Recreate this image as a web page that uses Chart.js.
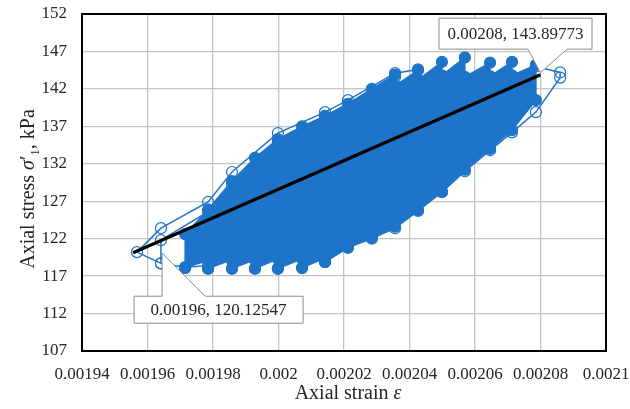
<!DOCTYPE html>
<html><head><meta charset="utf-8">
<script src="https://cdn.jsdelivr.net/npm/chart.js@4.4.1/dist/chart.umd.min.js"></script>
<style>html,body{margin:0;padding:0;background:#fff}#wrap{width:630px;height:409px;position:relative}</style>
</head><body><div id="wrap"><canvas id="c"></canvas></div>
<script>
const xTicks = [0.00194,0.00196,0.00198,0.002,0.00202,0.00204,0.00206,0.00208,0.0021];
const yTicks = [107,112,117,122,127,132,137,142,147,152];
const fitStrain = [0.0019556, 0.00208];
const fitStress = [120.12547, 143.89773];
const calloutText = ['0.00196, 120.12547', '0.00208, 143.89773'];

// outer first-loading path (hollow markers)
const loop0 = [[0.0019641,118.7],[0.0019568,120.2],[0.0019641,123.4],[0.0019785,126.9],[0.0019858,130.9],[0.0019998,136.1],[0.0020142,138.9],[0.0020212,140.5],[0.0020356,144.1],[0.0020426,144.6],[0.0020426,139.6],[0.0020356,136.6],[0.0020285,133.6],[0.0020212,130.6],[0.0020142,127.7],[0.0020072,125.0],[0.0019998,122.6],[0.0019928,120.6],[0.0019858,119.1],[0.0019785,118.4],[0.0019715,118.2],[0.0019641,118.7],[0.0019641,121.8],[0.0019785,125.6],[0.0019858,129.3],[0.0019998,134.9],[0.0020142,138.3],[0.0020356,143.6]];
// last unloading path (hollow markers)
const loop8 = [[0.0020713,143.6],[0.0020786,145.0],[0.002086,144.2],[0.002086,143.5],[0.0020786,138.9],[0.0020713,136.2],[0.0020646,133.8],[0.0020569,131.0],[0.0020499,128.2],[0.0020426,125.7],[0.0020356,123.4],[0.0020285,122.0],[0.0020212,120.8],[0.0020142,118.9]];
const loop1 = [[0.0019715,118.1],[0.0019715,122.6],[0.0019785,125.9],[0.0019858,129.7],[0.0019928,132.8],[0.0019998,135.3],[0.0020072,137.0],[0.0020142,138.4],[0.0020212,140.0],[0.0020285,142.0],[0.0020356,143.9],[0.0020356,139.5],[0.0020285,136.5],[0.0020212,133.5],[0.0020142,130.5],[0.0020072,127.6],[0.0019998,124.9],[0.0019928,122.6],[0.0019858,120.6],[0.0019785,119.1],[0.0019715,118.1]];
const loop2 = [[0.0019785,118.0],[0.0019785,122.3],[0.0019858,126.0],[0.0019928,129.6],[0.0019998,132.6],[0.0020072,135.1],[0.0020142,137.1],[0.0020212,138.9],[0.0020285,140.6],[0.0020356,142.4],[0.0020426,144.5],[0.0020426,139.8],[0.0020356,136.8],[0.0020285,133.8],[0.0020212,130.8],[0.0020142,127.9],[0.0020072,125.1],[0.0019998,122.7],[0.0019928,120.7],[0.0019858,119.2],[0.0019785,118.0]];
const loop3 = [[0.0019858,118.0],[0.0019858,122.4],[0.0019928,126.4],[0.0019998,130.1],[0.0020072,133.1],[0.0020142,135.6],[0.0020212,137.6],[0.0020285,139.4],[0.0020356,141.2],[0.0020426,143.2],[0.0020499,145.6],[0.0020499,140.2],[0.0020426,137.0],[0.0020356,134.0],[0.0020285,131.0],[0.0020212,128.1],[0.0020142,125.3],[0.0020072,122.9],[0.0019998,120.8],[0.0019928,119.2],[0.0019858,118.0]];
const loop4 = [[0.0019928,118.0],[0.0019928,122.5],[0.0019998,126.6],[0.0020072,130.3],[0.0020142,133.3],[0.0020212,135.8],[0.0020285,137.9],[0.0020356,139.8],[0.0020426,141.7],[0.0020499,143.8],[0.0020569,146.2],[0.0020569,140.4],[0.0020499,137.2],[0.0020426,134.2],[0.0020356,131.2],[0.0020285,128.3],[0.0020212,125.5],[0.0020142,123.0],[0.0020072,120.9],[0.0019998,119.3],[0.0019928,118.0]];
const loop5 = [[0.0019998,118.0],[0.0019998,122.4],[0.0020072,126.4],[0.0020142,130.1],[0.0020212,133.1],[0.0020285,135.7],[0.0020356,137.9],[0.0020426,139.8],[0.0020499,141.7],[0.0020569,143.6],[0.0020646,145.5],[0.0020646,140.0],[0.0020569,137.0],[0.0020499,134.0],[0.0020426,131.0],[0.0020356,128.1],[0.0020285,125.4],[0.0020212,123.0],[0.0020142,120.9],[0.0020072,119.3],[0.0019998,118.0]];
const loop6 = [[0.0020072,118.1],[0.0020072,122.3],[0.0020142,126.2],[0.0020212,129.9],[0.0020285,133.0],[0.0020356,135.6],[0.0020426,137.9],[0.0020499,139.9],[0.0020569,141.8],[0.0020646,143.7],[0.0020713,145.6],[0.0020713,139.7],[0.0020646,136.8],[0.0020569,133.9],[0.0020499,130.9],[0.0020426,128.0],[0.0020356,125.3],[0.0020285,123.0],[0.0020212,121.0],[0.0020142,119.4],[0.0020072,118.1]];
const loop7 = [[0.0020142,118.9],[0.0020142,122.6],[0.0020212,126.3],[0.0020285,129.9],[0.0020356,133.0],[0.0020426,135.7],[0.0020499,138.0],[0.0020569,140.1],[0.0020646,142.0],[0.0020713,143.8],[0.0020786,145.2],[0.0020786,140.5],[0.0020713,136.5],[0.0020646,134.0],[0.0020569,131.2],[0.0020499,128.3],[0.0020426,125.8],[0.0020356,123.6],[0.0020285,122.1],[0.0020212,120.8],[0.0020142,118.9]];

const BLUE = 'rgb(30,116,200)';
const FONT = "'Liberation Serif', 'DejaVu Serif', serif";
function pts(a){ return a.map(p => ({x:p[0], y:p[1]})); }
const hollow = l => ({data:pts(l), showLine:true, borderColor:BLUE, borderWidth:1.5, pointRadius:5.5, pointBorderWidth:1.2, pointBorderColor:BLUE, pointBackgroundColor:'rgba(0,0,0,0)', fill:false});
const filled = l => ({data:pts(l), showLine:true, borderColor:BLUE, backgroundColor:BLUE, borderWidth:1.5, pointRadius:5.5, pointBorderWidth:1.2, pointBorderColor:BLUE, pointBackgroundColor:BLUE, fill:'shape'});

const datasets = [
  {data: fitStrain.map((x,i)=>({x, y:fitStress[i]})), showLine:true, borderColor:'#000', borderWidth:3.2, pointRadius:0, fill:false},
  hollow(loop0), hollow(loop8),
  ...[loop1,loop2,loop3,loop4,loop5,loop6,loop7].map(filled)
];

const decor = {
  id:'decor',
  afterDatasetsDraw(chart){
    const {ctx, chartArea:a} = chart;
    ctx.save(); ctx.strokeStyle='#000'; ctx.lineWidth=2;
    ctx.strokeRect(a.left, a.top, a.right-a.left, a.bottom-a.top);
    ctx.restore();
  },
  afterDraw(chart){
    const ctx = chart.ctx;
    const m = chart.getDatasetMeta(0);
    const p1 = m.data[0], p2 = m.data[1];
    ctx.save();
    ctx.lineWidth = 1; ctx.strokeStyle = '#8c8c8c'; ctx.fillStyle = '#fff';
    // lower-left callout
    let L = p1.x+1, R = p1.x+170, T = p1.y+43.5, B = p1.y+70.5;
    ctx.beginPath();
    ctx.moveTo(L,T); ctx.lineTo(p1.x+29,T); ctx.lineTo(p1.x+29,p1.y+0.5); ctx.lineTo(p1.x+72,T);
    ctx.lineTo(R,T); ctx.lineTo(R,B); ctx.lineTo(L,B); ctx.closePath();
    ctx.fill(); ctx.stroke();
    ctx.fillStyle = '#262626'; ctx.font = '17px ' + FONT; ctx.textAlign='center'; ctx.textBaseline='middle';
    ctx.fillText(calloutText[0], (L+R)/2, (T+B)/2+1);
    // upper-right callout
    ctx.fillStyle = '#fff';
    L = p2.x-101.5; R = p2.x+51.5; T = p2.y-56.5; B = p2.y-25.5;
    ctx.beginPath();
    ctx.moveTo(L,T); ctx.lineTo(R,T); ctx.lineTo(R,B); ctx.lineTo(p2.x+26.5,B); ctx.lineTo(p2.x,p2.y-2);
    ctx.lineTo(p2.x-12.5,B); ctx.lineTo(L,B); ctx.closePath();
    ctx.fill(); ctx.stroke();
    ctx.fillStyle = '#262626';
    ctx.fillText(calloutText[1], (L+R)/2, (T+B)/2+1);

    // x axis title
    const parts = (arr) => arr.reduce((w,p)=>{ctx.font=p[1]; return w+ctx.measureText(p[0]).width;},0);
    ctx.fillStyle = '#262626'; ctx.textAlign='left'; ctx.textBaseline='alphabetic';
    const xp = [['Axial strain ', '20px '+FONT, 0], ['\u03B5', 'italic 20px '+FONT, 0]];
    let w = parts(xp), x0 = 348 - w/2;
    for (const p of xp){ ctx.font=p[1]; ctx.fillText(p[0], x0, 399); x0 += ctx.measureText(p[0]).width; }
    // y axis title
    ctx.translate(34, 189); ctx.rotate(-Math.PI/2);
    const yp = [['Axial stress ', '20px '+FONT, 0], ['\u03C3', 'italic 20px '+FONT, 0], ['\u2032', '20px '+FONT, 0], ['1', '13px '+FONT, 5], [', kPa', '20px '+FONT, 0]];
    w = parts(yp); x0 = -w/2;
    for (const p of yp){ ctx.font=p[1]; ctx.fillText(p[0], x0, p[2]); x0 += ctx.measureText(p[0]).width; }
    ctx.restore();
  }
};

new Chart(document.getElementById('c'), {
  type:'scatter',
  data:{datasets},
  options:{
    responsive:true, maintainAspectRatio:false, animation:false,
    layout:{padding:{top:14, right:24, left:0, bottom:0}},
    plugins:{legend:{display:false}, tooltip:{enabled:false}},
    scales:{
      x:{type:'linear', min:xTicks[0], max:xTicks[xTicks.length-1],
        afterBuildTicks(s){ s.ticks = xTicks.map(v=>({value:v})); },
        afterFit(s){ s.height = 58; s.paddingLeft = 0; s.paddingRight = 0; },
        grid:{color:'#c4c4c4', lineWidth:1.3, drawTicks:false},
        border:{display:false},
        ticks:{padding:13, color:'#262626', font:{family:FONT, size:17}, maxRotation:0, autoSkip:false,
          callback:v=>String(+(+v).toFixed(6))}
      },
      y:{type:'linear', min:yTicks[0], max:yTicks[yTicks.length-1],
        afterBuildTicks(s){ s.ticks = yTicks.map(v=>({value:v})); },
        afterFit(s){ s.width = 82; s.paddingTop = 0; s.paddingBottom = 0; },
        grid:{color:'#c4c4c4', lineWidth:1.3, drawTicks:false},
        border:{display:false},
        ticks:{padding:15, color:'#262626', font:{family:FONT, size:17}, autoSkip:false}
      }
    }
  },
  plugins:[decor]
});
</script></body></html>
